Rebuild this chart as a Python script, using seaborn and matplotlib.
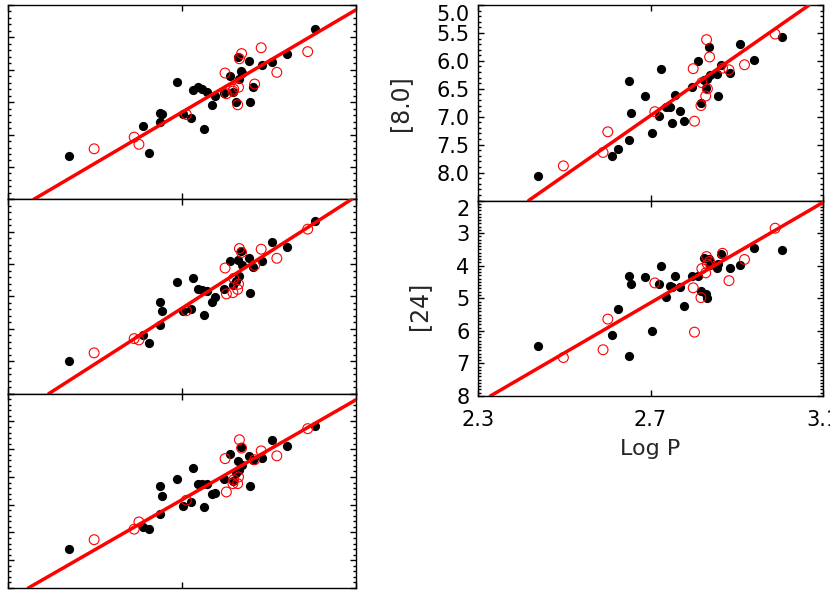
import numpy as np
import pandas as pd
import matplotlib
matplotlib.use("Agg")
import matplotlib.pyplot as plt
import seaborn as sns
from matplotlib.ticker import MultipleLocator, NullLocator

# periods (log P) of the stars, filled = black dots, open = red circles
logp_filled = [2.440, 2.610, 2.624, 2.649, 2.650, 2.655, 2.688, 2.703, 2.720, 2.725,
               2.736, 2.745, 2.751, 2.757, 2.768, 2.777, 2.797, 2.811, 2.817, 2.824,
               2.829, 2.832, 2.836, 2.838, 2.855, 2.857, 2.863, 2.884, 2.908, 2.941, 3.005]
logp_open = [2.498, 2.590, 2.601, 2.710, 2.799, 2.802, 2.817, 2.819, 2.828, 2.830,
             2.832, 2.837, 2.867, 2.882, 2.918, 2.989]

# magnitudes per band (left column labels are cut off in the reference)
mag36_filled = [8.33, 7.87, 8.29, 7.81, 7.67, 7.69, 7.19, 7.68, 7.74, 7.31,
                7.26, 7.29, 7.91, 7.35, 7.55, 7.40, 7.36, 7.09, 7.34, 7.50,
                6.80, 7.14, 7.02, 7.05, 6.86, 7.50, 7.26, 6.93, 6.88, 6.75, 6.37]
mag36_open = [8.22, 8.04, 8.15, 7.69, 7.05, 7.37, 7.33, 7.30, 7.54, 7.27,
              6.83, 6.75, 7.22, 6.66, 7.04, 6.72]

mag45_filled = [7.99, 7.60, 7.72, 7.44, 7.09, 7.22, 6.78, 7.23, 7.19, 6.71,
                6.89, 6.90, 7.29, 6.92, 7.08, 7.01, 6.88, 6.45, 6.82, 6.76,
                6.44, 6.68, 6.30, 6.52, 6.40, 6.94, 6.55, 6.45, 6.16, 6.24, 5.83]
mag45_open = [7.87, 7.65, 7.67, 7.22, 6.56, 6.96, 6.94, 6.72, 6.89, 6.81,
              6.26, 6.32, 6.52, 6.27, 6.41, 5.96]

mag58_filled = [7.79, 7.40, 7.44, 7.17, 6.66, 6.85, 6.53, 7.02, 6.96, 6.33,
                6.63, 6.62, 7.05, 6.63, 6.80, 6.79, 6.53, 6.08, 6.58, 6.43,
                6.21, 6.38, 5.96, 6.28, 6.12, 6.66, 6.19, 6.16, 5.84, 5.95, 5.58]
mag58_open = [7.63, 7.44, 7.31, 6.92, 6.17, 6.77, 6.62, 6.55, 6.62, 6.50,
              5.83, 5.98, 6.19, 6.03, 6.12, 5.63]

mag80_filled = [8.07, 7.70, 7.57, 7.42, 6.36, 6.93, 6.63, 7.29, 6.98, 6.14,
                6.82, 6.82, 7.11, 6.61, 6.90, 7.07, 6.46, 6.00, 6.76, 6.35,
                6.48, 6.33, 5.76, 6.25, 6.24, 6.63, 6.08, 6.22, 5.70, 5.98, 5.58]
mag80_open = [7.88, 7.64, 7.27, 6.91, 6.14, 7.08, 6.80, 6.39, 6.63, 5.62,
              6.50, 5.93, 6.13, 6.16, 6.07, 5.52]

mag24_filled = [6.48, 6.12, 5.34, 6.77, 4.32, 4.56, 4.35, 5.99, 4.56, 4.00,
                4.96, 4.63, 4.66, 4.32, 4.66, 5.23, 4.31, 4.33, 4.78, 3.76,
                4.88, 4.98, 3.81, 3.97, 4.07, 3.95, 3.64, 4.07, 3.97, 3.46, 3.51]
mag24_open = [6.82, 6.58, 5.64, 4.53, 4.68, 6.04, 4.98, 4.09, 4.22, 3.72,
              3.95, 3.87, 3.62, 4.46, 3.81, 2.85]

# PL relations: magnitude at log P = 2.7 and slope
pl_pivot = 2.7
pl_zero = [7.654, 7.18, 6.91, 6.98, 5.14]
pl_slope = [-3.95, -4.31, -4.50, -5.38, -7.70]

band_labels = ["", "", "", "[8.0]", "[24]"]

sns.set_style("ticks")
plt.rcParams["font.family"] = ["DejaVu Sans"]

W, H = 830, 593
fig = plt.figure(figsize=(W / 100, H / 100), dpi=100)


def box(x0, x1, y0, y1):
    return [x0 / W, (H - y1) / H, (x1 - x0) / W, (y1 - y0) / H]


lh = (588 - 5) / 3.0
panels = [
    dict(pos=box(8, 356, 5, 5 + lh), f=mag36_filled, o=mag36_open, ylim=(6.0, 9.0), major=0.5, minor=0.1),
    dict(pos=box(8, 356, 5 + lh, 5 + 2 * lh), f=mag45_filled, o=mag45_open, ylim=(5.5, 8.5), major=0.5, minor=0.1),
    dict(pos=box(8, 356, 5 + 2 * lh, 588), f=mag58_filled, o=mag58_open, ylim=(5.0, 8.5), major=0.5, minor=0.1),
    dict(pos=box(478, 823, 5, 200.5), f=mag80_filled, o=mag80_open, ylim=(5.0, 8.5), major=0.5, minor=0.1),
    dict(pos=box(478, 823, 200.5, 396), f=mag24_filled, o=mag24_open, ylim=(2.0, 8.0), major=1.0, minor=0.1),
]

for i, p in enumerate(panels):
    ax = fig.add_axes(p["pos"])
    df_f = pd.DataFrame({"logp": logp_filled, "mag": p["f"]})
    df_o = pd.DataFrame({"logp": logp_open, "mag": p["o"]})
    sns.scatterplot(data=df_f, x="logp", y="mag", ax=ax, color="black",
                    s=44, linewidth=0, zorder=2)
    sns.scatterplot(data=df_o, x="logp", y="mag", ax=ax, facecolor="none",
                    edgecolor="red", s=50, linewidth=0.8, zorder=3)
    ax.axline((pl_pivot, pl_zero[i]), slope=pl_slope[i], color="red", lw=2.5, zorder=4)

    ax.set_xlim(2.3, 3.1)
    ax.set_ylim(p["ylim"][1], p["ylim"][0])
    ax.set_xticks([2.3, 2.7, 3.1])
    ax.xaxis.set_minor_locator(NullLocator())
    ax.yaxis.set_major_locator(MultipleLocator(p["major"]))
    ax.yaxis.set_minor_locator(MultipleLocator(p["minor"]))
    ax.tick_params(which="both", direction="in", top=True, right=True,
                   width=1.0, colors="black", labelsize=15)
    ax.tick_params(which="major", length=4.5)
    ax.tick_params(which="minor", length=2.2)
    ax.tick_params(axis="x", pad=10)
    ax.tick_params(axis="y", pad=6)
    for sp in ax.spines.values():
        sp.set_linewidth(1.0)
        sp.set_color("black")
    ax.set_xlabel("")
    ax.set_ylabel("")

    if i < 3:
        ax.set_xticklabels([])
        ax.set_yticklabels([])
    else:
        lo, hi = p["ylim"]
        ticks = np.arange(lo, hi - p["major"] / 2 + 1e-9, p["major"]) if i == 3 else np.arange(lo, hi + 1e-9, p["major"])
        ax.set_yticks(ticks)
        fmt = "{:.1f}" if i == 3 else "{:.0f}"
        ax.set_yticklabels([fmt.format(t) for t in ticks])
        ax.get_yticklabels()[0].set_verticalalignment("top")
        ax.set_ylabel(band_labels[i], fontsize=17)
        if i == 3:
            ax.set_xticklabels([])
            ax.yaxis.set_label_coords(-0.19, 0.5)
        else:
            ax.yaxis.set_label_coords(-0.135, 0.46)
            ax.set_xlabel("Log P", fontsize=16)
            ax.xaxis.set_label_coords(0.5, -0.22)

fig.savefig("out.png", dpi=100)
